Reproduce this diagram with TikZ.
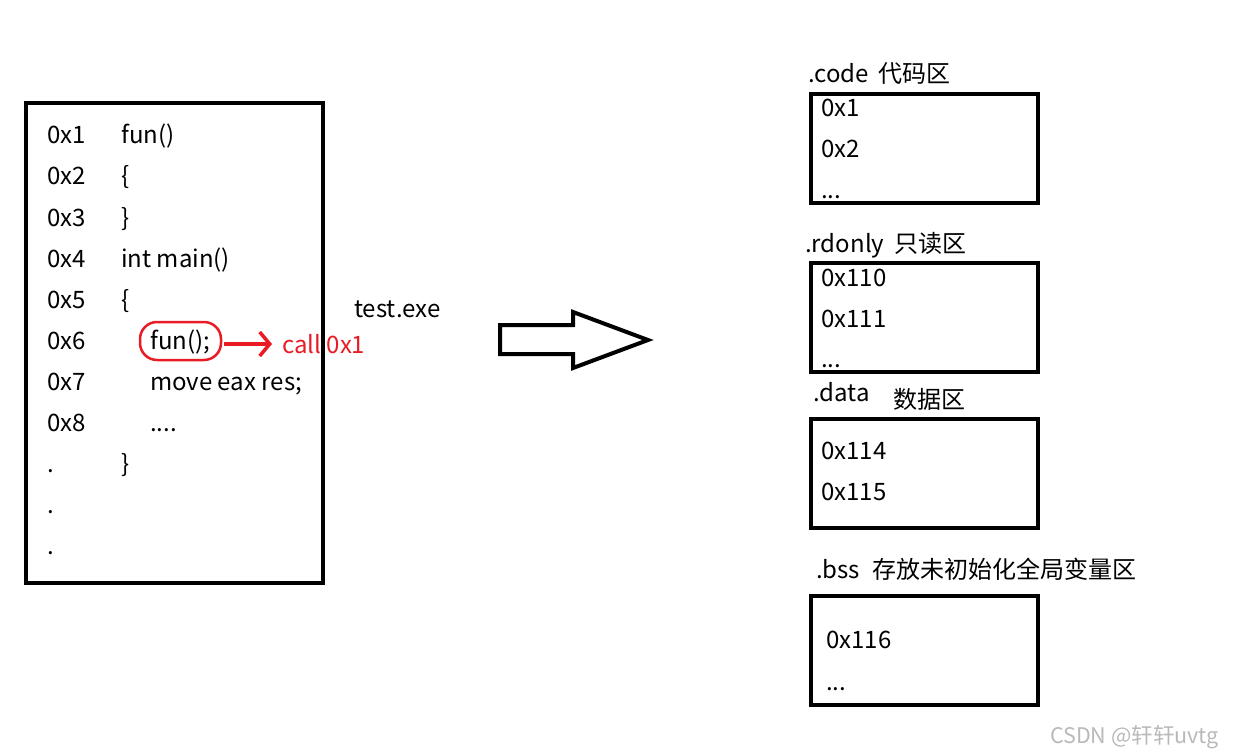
\documentclass[tikz,border=0pt]{standalone}
\usepackage{fontspec}
\setmainfont{Noto Sans CJK SC}
\usetikzlibrary{arrows.meta}
\definecolor{redmark}{RGB}{232,28,36}
\definecolor{wm}{RGB}{185,185,185}
\begin{document}
\begin{tikzpicture}[x=1pt,y=-1pt,
  txt/.style={anchor=base west,inner sep=0pt,font=\fontsize{24}{29}\selectfont},
  box/.style={draw,line width=4pt,inner sep=0pt,minimum width=227pt,minimum height=109pt},
  redtxt/.style={txt,text=redmark}]
\useasboundingbox (0,0) rectangle (1233,754);
% source box
\node[draw,line width=4pt,inner sep=0pt,minimum width=297pt,minimum height=480pt] (src) at (174.5,343) {};
\node[txt] (a1) at (47,144) {0x1};
\node[txt] (a2) at (47,185) {0x2};
\node[txt] (a3) at (47,226) {0x3};
\node[txt] (a4) at (47,267) {0x4};
\node[txt] (a5) at (47,308) {0x5};
\node[txt] (a6) at (47,349) {0x6};
\node[txt] (a7) at (47,390) {0x7};
\node[txt] (a8) at (47,431) {0x8};
\node[txt] (d1) at (47,472) {.};
\node[txt] (d2) at (47,513) {.};
\node[txt] (d3) at (47,554) {.};
\node[txt] (c1) at (121,144) {fun()};
\node[txt] (c2) at (121,185) {\{};
\node[txt] (c3) at (121,226) {\}};
\node[txt] (c4) at (121,267) {int main()};
\node[txt] (c5) at (121,308) {\{};
\node[txt] (c6) at (150,349) {fun();};
\node[txt] (c7) at (150,390) {move eax res;};
\node[txt] (c8) at (150,431) {....};
\node[txt] (c9) at (121,472) {\}};
% red mark
\node[draw=redmark,line width=2.5pt,rounded corners=17pt,minimum width=81pt,minimum height=38pt] (circ) at (180.5,341) {};
\node[redtxt] (call) at (282,353) {call 0x1};
\draw[redmark,line width=3.5pt,-{Straight Barb[length=10pt,width=24pt,line width=3.5pt]}] (circ.east) ++(2,3) coordinate (cs) -- (272,344) coordinate (ce);
% test.exe
\node[txt] (exe) at (354,317) {test.exe};
% big arrow
\draw[line width=4pt,line join=miter] (500,325) -- (573,325) -- (573,312) -- (648,340) -- (573,368) -- (573,354) -- (500,354) -- cycle;
% right boxes
\node[box] (b1) at (924.5,148.5) {};
\node[box] (b2) at (924.5,317.5) {};
\node[box] (b3) at (924.5,473.5) {};
\node[box] (b4) at (924.5,650.5) {};
\node[txt] (l1) at (808,83) {.code\hspace{10pt}代码区};
\node[txt] (l2) at (805,252) {.rdonly\hspace{10pt}只读区};
\node[txt] (l3) at (813,401) {.data};
\node[txt] (l3b) at (893,408) {数据区};
\node[txt] (l4) at (816,578) {.bss\hspace{12pt}存放未初始化全局变量区};
\node[txt] (r11) at (821,117) {0x1};
\node[txt] (r12) at (821,158) {0x2};
\node[txt] (r13) at (821,198) {...};
\node[txt] (r21) at (821,286) {0x110};
\node[txt] (r22) at (821,327) {0x111};
\node[txt] (r23) at (821,367) {...};
\node[txt] (r31) at (821,459) {0x114};
\node[txt] (r32) at (821,500) {0x115};
\node[txt] (r41) at (826,648) {0x116};
\node[txt] (r42) at (826,690) {...};
% watermark
\node[anchor=base west,inner sep=0pt,font=\fontsize{21.5}{26}\selectfont,text=wm] (wmk) at (1050,743) {CSDN @轩轩uvtg};
\end{tikzpicture}
\end{document}
